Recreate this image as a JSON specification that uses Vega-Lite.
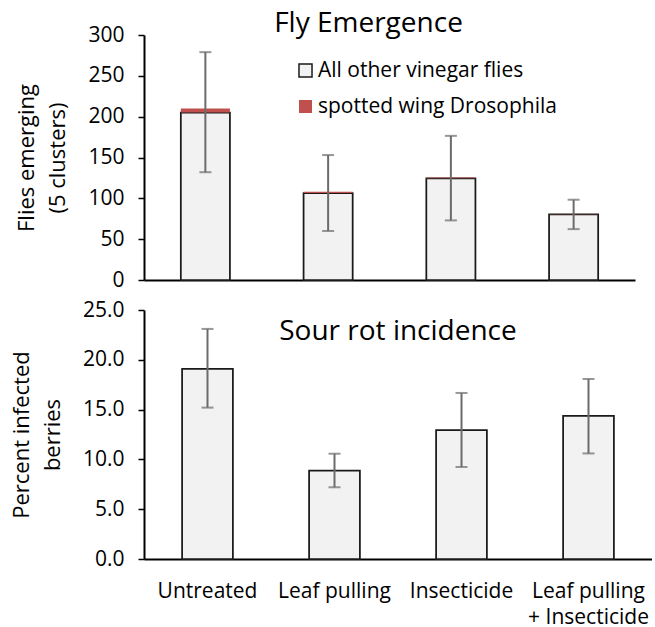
{
  "$schema": "https://vega.github.io/schema/vega-lite/v6.json",
  "padding": {"left": 10, "top": 10, "right": 0, "bottom": 0},
  "spacing": 9,
  "config": {
    "font": "Open Sans",
    "view": {"stroke": null},
    "axis": {
      "grid": false,
      "domainColor": "#000000",
      "domainWidth": 2,
      "tickColor": "#000000",
      "tickWidth": 1.5,
      "tickSize": 6,
      "labelFontSize": 21,
      "labelColor": "#000000",
      "titleFontSize": 22,
      "titleFontWeight": "normal",
      "titleColor": "#000000",
      "titleLineHeight": 31
    },
    "title": {"fontSize": 28, "fontWeight": "normal", "color": "#000000"}
  },
  "datasets": {
    "flies": [
      {"treatment": "Untreated", "type": "All other vinegar flies", "value": 205, "rank": 1},
      {"treatment": "Untreated", "type": "spotted wing Drosophila", "value": 5, "rank": 2},
      {"treatment": "Leaf pulling", "type": "All other vinegar flies", "value": 106.5, "rank": 1},
      {"treatment": "Leaf pulling", "type": "spotted wing Drosophila", "value": 1.5, "rank": 2},
      {"treatment": "Insecticide", "type": "All other vinegar flies", "value": 124.5, "rank": 1},
      {"treatment": "Insecticide", "type": "spotted wing Drosophila", "value": 1, "rank": 2},
      {"treatment": "Leaf pulling + Insecticide", "type": "All other vinegar flies", "value": 80.5, "rank": 1},
      {"treatment": "Leaf pulling + Insecticide", "type": "spotted wing Drosophila", "value": 0.3, "rank": 2}
    ],
    "fliesErr": [
      {"treatment": "Untreated", "lo": 132, "hi": 279},
      {"treatment": "Leaf pulling", "lo": 60, "hi": 153},
      {"treatment": "Insecticide", "lo": 73, "hi": 176.5},
      {"treatment": "Leaf pulling + Insecticide", "lo": 62.3, "hi": 98.3}
    ],
    "rot": [
      {"treatment": "Untreated", "value": 19.1, "lo": 15.2, "hi": 23.1},
      {"treatment": "Leaf pulling", "value": 8.87, "lo": 7.2, "hi": 10.57},
      {"treatment": "Insecticide", "value": 12.95, "lo": 9.24, "hi": 16.67},
      {"treatment": "Leaf pulling + Insecticide", "value": 14.36, "lo": 10.6, "hi": 18.07}
    ]
  },
  "vconcat": [
    {
      "width": 491,
      "height": 245,
      "title": {"text": "Fly Emergence", "anchor": "middle", "frame": "group", "offset": -14, "dx": -21},
      "layer": [
        {
          "data": {"name": "flies"},
          "mark": {"type": "bar", "strokeWidth": 1.75},
          "encoding": {
            "x": {"field": "treatment", "type": "nominal", "sort": null,
                  "scale": {"paddingInner": 0.6, "paddingOuter": 0.3},
                  "axis": {"labels": false, "ticks": false, "title": null}},
            "y": {"field": "value", "type": "quantitative", "stack": "zero",
                  "scale": {"domain": [0, 300], "nice": false},
                  "axis": {"values": [0, 50, 100, 150, 200, 250, 300], "labelPadding": 14, "titlePadding": 18,
                           "title": ["Flies emerging", "(5 clusters)"]}},
            "order": {"field": "rank", "type": "quantitative"},
            "color": {"field": "type", "type": "nominal",
                      "scale": {"domain": ["All other vinegar flies", "spotted wing Drosophila"], "range": ["#f2f2f2", "#c0504d"]},
                      "legend": {"title": null, "orient": "none", "legendX": 151, "legendY": 25,
                                 "symbolType": "square", "symbolSize": 170, "symbolStrokeWidth": 1.5,
                                 "labelFontSize": 21, "labelColor": "#000000", "labelOffset": 2, "rowPadding": 14,
                                 "labelLimit": 400}},
            "stroke": {"field": "type", "type": "nominal",
                       "scale": {"domain": ["All other vinegar flies", "spotted wing Drosophila"], "range": ["#1a1a1a", "transparent"]},
                       "legend": {"title": null, "orient": "none", "legendX": 151, "legendY": 25,
                                  "symbolType": "square", "symbolSize": 170, "symbolStrokeWidth": 1.5,
                                  "labelFontSize": 21, "labelColor": "#000000", "labelOffset": 2, "rowPadding": 14,
                                  "labelLimit": 400}}
          }
        },
        {
          "data": {"name": "fliesErr"},
          "mark": {"type": "rule", "color": "#6b6b6b", "strokeWidth": 2},
          "encoding": {
            "x": {"field": "treatment", "type": "nominal", "sort": null},
            "y": {"field": "lo", "type": "quantitative"},
            "y2": {"field": "hi"}
          }
        },
        {
          "data": {"name": "fliesErr"},
          "mark": {"type": "tick", "color": "#6b6b6b", "size": 12, "thickness": 2, "orient": "horizontal"},
          "encoding": {
            "x": {"field": "treatment", "type": "nominal", "sort": null},
            "y": {"field": "lo", "type": "quantitative"}
          }
        },
        {
          "data": {"name": "fliesErr"},
          "mark": {"type": "tick", "color": "#6b6b6b", "size": 12, "thickness": 2, "orient": "horizontal"},
          "encoding": {
            "x": {"field": "treatment", "type": "nominal", "sort": null},
            "y": {"field": "hi", "type": "quantitative"}
          }
        }
      ]
    },
    {
      "width": 508,
      "height": 249,
      "title": {"text": "Sour rot incidence", "anchor": "middle", "frame": "group", "offset": -47},
      "data": {"name": "rot"},
      "encoding": {
        "x": {"field": "treatment", "type": "nominal", "sort": null,
              "scale": {"paddingInner": 0.6, "paddingOuter": 0.3},
              "axis": {"ticks": false, "title": null, "labelAngle": 0, "labelPadding": 21, "labelLineHeight": 26,
                       "labelExpr": "datum.value == 'Leaf pulling + Insecticide' ? ['Leaf pulling', '+ Insecticide'] : datum.label"}}
      },
      "layer": [
        {
          "mark": {"type": "bar", "fill": "#f2f2f2", "stroke": "#1a1a1a", "strokeWidth": 1.75},
          "encoding": {
            "y": {"field": "value", "type": "quantitative",
                  "scale": {"domain": [0, 25], "nice": false},
                  "axis": {"values": [0, 5, 10, 15, 20, 25], "format": ".1f", "labelPadding": 14, "titlePadding": 18,
                           "title": ["Percent infected", "berries"]}}
          }
        },
        {
          "mark": {"type": "rule", "color": "#6b6b6b", "strokeWidth": 2},
          "encoding": {
            "y": {"field": "lo", "type": "quantitative"},
            "y2": {"field": "hi"}
          }
        },
        {
          "mark": {"type": "tick", "color": "#6b6b6b", "size": 12, "thickness": 2, "orient": "horizontal"},
          "encoding": {"y": {"field": "lo", "type": "quantitative"}}
        },
        {
          "mark": {"type": "tick", "color": "#6b6b6b", "size": 12, "thickness": 2, "orient": "horizontal"},
          "encoding": {"y": {"field": "hi", "type": "quantitative"}}
        }
      ]
    }
  ]
}
